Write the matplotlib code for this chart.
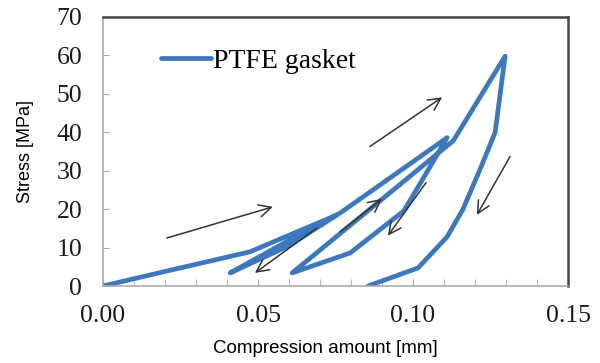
import numpy as np
import matplotlib
matplotlib.use("Agg")
from matplotlib import pyplot as plt
from matplotlib.ticker import MultipleLocator

# cyclic compression of the gasket: load / unload / reload path
compression = [0.0, 0.0206, 0.0474, 0.0755,
               0.060, 0.041,
               0.058, 0.0765,
               0.111,
               0.104, 0.097, 0.0797, 0.061,
               0.113, 0.1297,
               0.1265, 0.1216, 0.116, 0.111, 0.1016, 0.0855]
stress = [0.0, 3.9, 8.9, 18.5,
          10.5, 3.4,
          11.0, 19.0,
          38.6,
          29.0, 19.5, 8.6, 3.4,
          37.8, 59.8,
          40.0, 30.3, 19.8, 12.8, 4.7, 0.0]

# direction arrows (tail -> head)
arrow_tails = [(0.0206, 12.5), (0.0861, 36.3), (0.069, 15.1),
               (0.0765, 14.1), (0.1042, 26.9), (0.1313, 33.7)]
arrow_heads = [(0.0548, 20.6), (0.1094, 49.1), (0.049, 3.4),
               (0.090, 22.7), (0.0919, 13.1), (0.1206, 18.5)]

serif = "Liberation Serif"
sans = "Liberation Sans"
blue = "#3b78bd"

fig = plt.figure(figsize=(6.0, 3.63), dpi=100)
ax = fig.add_axes([0.1717, 0.2121, 0.775, 0.7411])

ax.plot(compression, stress, color=blue, lw=3.4, solid_joinstyle="round",
        solid_capstyle="round", label="PTFE gasket")

for tail, head in zip(arrow_tails, arrow_heads):
    ax.annotate("", xy=head, xytext=tail,
                arrowprops=dict(arrowstyle="->", color="#333333", lw=1.1,
                                mutation_scale=22, shrinkA=0, shrinkB=0))

ax.set_xlim(0, 0.15)
ax.set_ylim(0, 70)
ax.xaxis.set_major_locator(MultipleLocator(0.05))
ax.xaxis.set_minor_locator(MultipleLocator(0.01))
ax.yaxis.set_major_locator(MultipleLocator(10))
ax.xaxis.set_major_formatter(matplotlib.ticker.FormatStrFormatter("%.2f"))

ax.tick_params(axis="x", which="both", direction="in", length=5,
               color="#aaaaaa", pad=14)
ax.tick_params(axis="y", which="both", direction="in", length=4,
               color="#aaaaaa", pad=15)
for lab in ax.get_xticklabels() + ax.get_yticklabels():
    lab.set_fontfamily(serif)
    lab.set_fontsize(18.5)
    lab.set_color("#1a1a1a")

for side in ("left", "bottom"):
    ax.spines[side].set_color("#aaaaaa")
    ax.spines[side].set_linewidth(1.2)
for side in ("top", "right"):
    ax.spines[side].set_color("#444444")
    ax.spines[side].set_linewidth(1.8)

ax.set_xlabel("Compression amount [mm]", fontfamily=sans, fontsize=13.5)
ax.xaxis.set_label_coords(0.478, -0.20)
ax.set_ylabel("Stress [MPa]", fontfamily=sans, fontsize=13, labelpad=16)

ax.legend(loc="upper left", bbox_to_anchor=(0.07, 0.975), frameon=False,
          handlelength=1.8, handletextpad=0.1,
          prop={"family": serif, "size": 20})

plt.savefig("out.png", dpi=100)
